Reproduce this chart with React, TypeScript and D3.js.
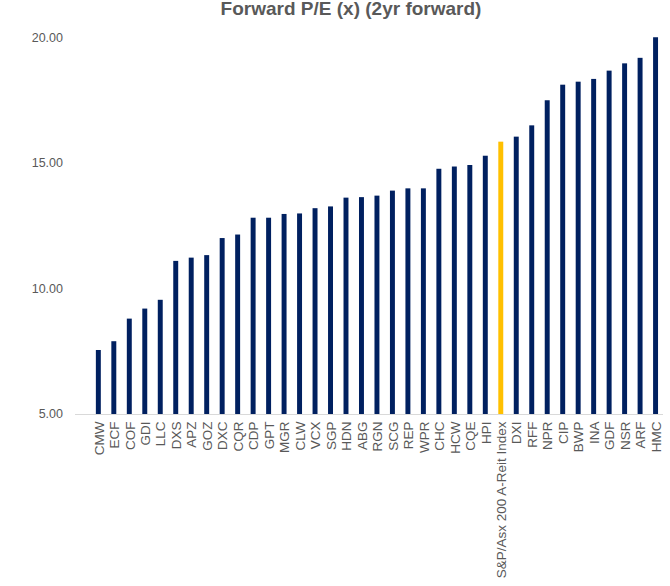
import React, { useEffect, useRef } from "react";
import * as d3 from "d3";

const categories = [
  "CMW", "ECF", "COF", "GDI", "LLC", "DXS", "APZ", "GOZ", "DXC", "CQR",
  "CDP", "GPT", "MGR", "CLW", "VCX", "SGP", "HDN", "ABG", "RGN", "SCG",
  "REP", "WPR", "CHC", "HCW", "CQE", "HPI", "S&P/Asx 200 A-Reit Index",
  "DXI", "RFF", "NPR", "CIP", "BWP", "INA", "GDF", "NSR", "ARF", "HMC",
];

const forwardPE = [
  7.55, 7.9, 8.8, 9.2, 9.55, 11.1, 11.23, 11.33, 12.01, 12.15,
  12.82, 12.82, 12.97, 12.99, 13.2, 13.27, 13.62, 13.64, 13.7, 13.9,
  13.99, 13.99, 14.77, 14.86, 14.92, 15.29, 15.85,
  16.05, 16.5, 17.5, 18.12, 18.24, 18.35, 18.68, 18.97, 19.19, 20.01,
];

const yTicks = [5, 10, 15, 20];
const highlight = "S&P/Asx 200 A-Reit Index";

export default function App() {
  const ref = useRef<SVGSVGElement>(null);

  useEffect(() => {
    const svg = d3.select(ref.current);
    svg.selectAll("*").remove();
    const font = "'Liberation Sans', Arial, sans-serif";
    const grey = "#595959";

    const x = d3
      .scaleBand()
      .domain(categories)
      .range([90.6, 663.3])
      .paddingInner(0.68)
      .paddingOuter(0.34);

    const y = d3.scaleLinear().domain([5, 20]).range([414, 37.5]);

    // title (top is clipped in the original)
    svg
      .append("text")
      .attr("x", 351)
      .attr("y", 14.5)
      .attr("text-anchor", "middle")
      .style("font-family", font)
      .style("font-size", "19px")
      .style("font-weight", "bold")
      .attr("fill", grey)
      .text("Forward P/E (x) (2yr forward)");

    // y tick labels
    svg
      .append("g")
      .selectAll("text")
      .data(yTicks)
      .enter()
      .append("text")
      .attr("x", 63)
      .attr("y", (d) => y(d))
      .attr("dy", "0.35em")
      .attr("text-anchor", "end")
      .style("font-family", font)
      .style("font-size", "12.5px")
      .attr("fill", grey)
      .text((d) => d3.format(".2f")(d));

    // bars
    svg
      .append("g")
      .selectAll("rect")
      .data(categories)
      .enter()
      .append("rect")
      .attr("x", (d) => x(d))
      .attr("width", x.bandwidth())
      .attr("y", (d, i) => y(forwardPE[i]))
      .attr("height", (d, i) => y(5) - y(forwardPE[i]))
      .attr("fill", (d) => (d === highlight ? "#FFC000" : "#002060"));

    // axis line
    svg
      .append("line")
      .attr("x1", 75)
      .attr("x2", 663)
      .attr("y1", y(5) + 0.5)
      .attr("y2", y(5) + 0.5)
      .attr("stroke", "#d9d9d9")
      .attr("stroke-width", 1);

    // category labels
    svg
      .append("g")
      .selectAll("text")
      .data(categories)
      .enter()
      .append("text")
      .attr("transform", (d) => `translate(${x(d)! + x.bandwidth() / 2 + 0.5},421.5) rotate(-90)`)
      .attr("dy", "0.35em")
      .attr("text-anchor", "end")
      .style("font-family", font)
      .style("font-size", "13.5px")
      .attr("fill", grey)
      .text((d) => d);
  }, []);

  return (
    <svg
      ref={ref}
      width={670}
      height={586}
      style={{ position: "absolute", left: 0, top: 0, background: "#fff" }}
    />
  );
}
